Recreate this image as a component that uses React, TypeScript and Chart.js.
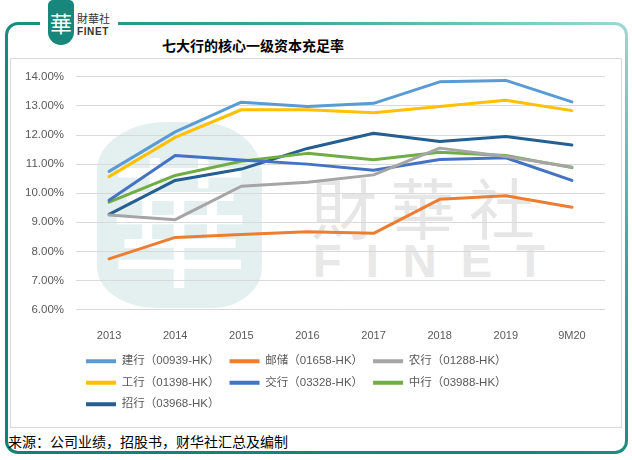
import React, { useEffect, useRef } from 'react';
import { Chart, registerables } from 'chart.js';

Chart.register(...registerables);

const categories = ['2013', '2014', '2015', '2016', '2017', '2018', '2019', '9M20'];
const seriesNames = [
  '建行（00939-HK）',
  '邮储（01658-HK）',
  '农行（01288-HK）',
  '工行（01398-HK）',
  '交行（03328-HK）',
  '中行（03988-HK）',
  '招行（03968-HK）',
];
const seriesColors = ['#5B9BD5', '#ED7D31', '#A5A5A5', '#FFC000', '#4472C4', '#70AD47', '#255E91'];

const ccb = [10.75, 12.11, 13.13, 12.98, 13.09, 13.83, 13.88, 13.14];
const psbc = [7.74, 8.48, 8.58, 8.67, 8.62, 9.79, 9.91, 9.52];
const abc = [9.25, 9.09, 10.24, 10.38, 10.63, 11.55, 11.26, 10.9];
const icbc = [10.57, 11.92, 12.87, 12.87, 12.77, 12.98, 13.2, 12.84];
const bocom = [9.76, 11.3, 11.14, 11.0, 10.79, 11.16, 11.22, 10.44];
const boc = [9.69, 10.61, 11.1, 11.37, 11.15, 11.41, 11.3, 10.88];
const cmb = [9.27, 10.44, 10.83, 11.54, 12.06, 11.78, 11.95, 11.66];

const seriesValues = [ccb, psbc, abc, icbc, bocom, boc, cmb];

const yMin = 6;
const yMax = 14;

const FONT = "'Liberation Sans', 'Noto Sans CJK SC', sans-serif";
const CJK = "'Noto Sans CJK SC', sans-serif";

export default function App() {
  const ref = useRef<HTMLCanvasElement>(null);

  useEffect(() => {
    if (!ref.current) return;
    const chart = new Chart(ref.current, {
      type: 'line',
      data: {
        labels: categories,
        datasets: seriesNames.map((name, i) => ({
          label: name,
          data: seriesValues[i],
          borderColor: seriesColors[i],
          backgroundColor: seriesColors[i],
          borderWidth: 3,
          pointRadius: 0,
          pointHoverRadius: 0,
          tension: 0,
          fill: false,
          borderJoinStyle: 'round' as const,
          borderCapStyle: 'round' as const,
        })),
      },
      options: {
        responsive: false,
        animation: false,
        events: [],
        layout: { padding: { top: 17, right: 17, bottom: 8, left: 0 } },
        plugins: {
          legend: {
            position: 'bottom',
            align: 'start',
            fullSize: false,
            labels: {
              boxWidth: 30,
              boxHeight: 4,
              padding: 10,
              color: '#595959',
              font: { size: 11.5, family: FONT },
              generateLabels: (c: any) => {
                const items = (Chart.defaults.plugins.legend.labels as any).generateLabels(c);
                items.forEach((it: any, i: number) => {
                  it.lineWidth = 0;
                  it.fillStyle = seriesColors[i];
                  it.strokeStyle = seriesColors[i];
                });
                return items;
              },
            },
          },
          tooltip: { enabled: false },
          title: { display: false },
        },
        scales: {
          x: {
            offset: true,
            grid: { display: false },
            border: { display: false },
            ticks: { color: '#595959', font: { size: 11, family: FONT }, padding: 12, maxRotation: 0 },
            afterFit: (s: any) => {
              s.height = 36;
            },
          },
          y: {
            min: yMin,
            max: yMax,
            ticks: {
              stepSize: 1,
              color: '#595959',
              font: { size: 11.5, family: FONT },
              padding: 12,
              callback: (v: any) => Number(v).toFixed(2) + '%',
            },
            grid: { color: '#d9d9d9', drawTicks: false, lineWidth: 1 },
            border: { display: false },
            afterFit: (s: any) => {
              s.width = 66;
            },
          },
        },
      },
    });
    return () => chart.destroy();
  }, []);

  return (
    <div
      style={{
        position: 'absolute',
        left: 0,
        top: 0,
        width: 632,
        height: 460,
        background: '#ffffff',
        overflow: 'hidden',
        fontFamily: FONT,
      }}
    >
      {/* outer teal frame */}
      <div
        style={{
          position: 'absolute',
          left: 5,
          top: 22,
          width: 623,
          height: 432,
          borderRadius: 13,
          background: 'linear-gradient(to bottom left, #9fd8d4 0%, #3aa59a 28%, #12887b 55%, #0f8276 100%)',
        }}
      >
        <div
          style={{
            position: 'absolute',
            left: 3,
            top: 3,
            right: 3,
            bottom: 3,
            borderRadius: 10,
            background: '#ffffff',
          }}
        />
      </div>
      {/* gap in the top border for the logo */}
      <div style={{ position: 'absolute', left: 40, top: 18, width: 78, height: 10, background: '#ffffff' }} />
      {/* logo */}
      <div
        style={{
          position: 'absolute',
          left: 48,
          top: 0,
          width: 26,
          height: 45,
          background: '#17877b',
          borderRadius: '5px 5px 13px 13px',
          color: '#ffffff',
          fontFamily: CJK,
          fontSize: 22,
          lineHeight: '45px',
          textAlign: 'center',
          fontWeight: 400,
          overflow: 'hidden',
        }}
      >
        華
      </div>
      <div
        style={{
          position: 'absolute',
          left: 77,
          top: 11,
          fontFamily: "'Noto Sans CJK TC', sans-serif",
          fontSize: 11,
          lineHeight: '14px',
          color: '#333333',
          letterSpacing: 0,
        }}
      >
        財華社
      </div>
      <div
        style={{
          position: 'absolute',
          left: 77,
          top: 26,
          fontFamily: FONT,
          fontSize: 10,
          fontWeight: 700,
          lineHeight: '11px',
          color: '#333333',
          letterSpacing: 0.6,
        }}
      >
        FINET
      </div>
      {/* title */}
      <div
        style={{
          position: 'absolute',
          left: 162,
          top: 35,
          width: 182,
          textAlign: 'center',
          fontFamily: CJK,
          fontSize: 14,
          fontWeight: 700,
          lineHeight: '20px',
          color: '#000000',
          whiteSpace: 'nowrap',
        }}
      >
        七大行的核心一级资本充足率
      </div>
      {/* inner chart box */}
      <div
        style={{
          position: 'absolute',
          left: 10,
          top: 58,
          width: 610,
          height: 368,
          border: '1px solid #d9d9d9',
        }}
      />
      {/* watermark: teal emblem */}
      <div
        style={{
          position: 'absolute',
          left: 97,
          top: 122,
          width: 165,
          height: 186,
          background: '#e3f0ef',
          borderRadius: '42% 38% 30% 36% / 26% 28% 22% 22%',
          color: '#ffffff',
          fontFamily: CJK,
          fontWeight: 400,
          fontSize: 140,
          lineHeight: '186px',
          textAlign: 'center',
          overflow: 'hidden',
        }}
      >
        華
      </div>
      {/* watermark: text */}
      <div
        style={{
          position: 'absolute',
          left: 311,
          top: 172,
          fontFamily: "'Noto Sans CJK TC', sans-serif",
          fontSize: 66,
          lineHeight: '66px',
          letterSpacing: 13,
          color: '#e6e6e6',
          whiteSpace: 'nowrap',
        }}
      >
        財華社
      </div>
      <div
        style={{
          position: 'absolute',
          left: 313,
          top: 237,
          fontFamily: FONT,
          fontWeight: 700,
          fontSize: 47,
          lineHeight: '47px',
          letterSpacing: 24,
          color: '#e8e8e8',
          whiteSpace: 'nowrap',
        }}
      >
        FINET
      </div>
      {/* chart canvas */}
      <canvas
        ref={ref}
        width={612}
        height={370}
        style={{ position: 'absolute', left: 10, top: 58, width: 612, height: 370 }}
      />
      {/* footer */}
      <div
        style={{
          position: 'absolute',
          left: 8,
          top: 431,
          fontFamily: CJK,
          fontSize: 14,
          lineHeight: '20px',
          color: '#000000',
          whiteSpace: 'nowrap',
        }}
      >
        来源：公司业绩，招股书，财华社汇总及编制
      </div>
    </div>
  );
}
